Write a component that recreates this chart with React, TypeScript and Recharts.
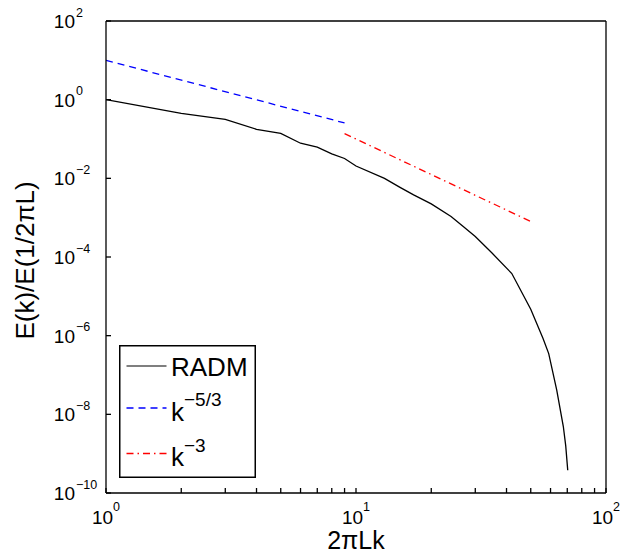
import { LineChart, Line, XAxis, YAxis, Legend } from "recharts";

// RADM spectrum
const radmK = [1, 2, 3, 4, 5, 6, 7, 8, 9, 10, 13, 15, 17, 20, 24, 27, 30, 35, 42, 50, 56, 59, 63.5, 67.5, 69, 70.3];
const radmE = [
  1, 0.45, 0.316, 0.176, 0.139, 0.078, 0.062, 0.042, 0.032, 0.0206, 0.01, 0.0059, 0.0038, 0.00224, 0.00107,
  5.75e-4, 3.3e-4, 1.26e-4, 3.8e-5, 4.7e-6, 8.5e-7, 3.5e-7, 4.2e-8, 4.9e-9, 1.6e-9, 3.8e-10,
];

// reference slopes (end points only)
const k53K = [1, 9];
const k53E = [10, 0.256];
const k3K = [9, 50];
const k3E = [0.137, 0.0008];

const xTicks = [1, 2, 3, 4, 5, 6, 7, 8, 9, 10, 20, 30, 40, 50, 60, 70, 80, 90, 100];
const yTicks = [1e-10, 1e-8, 1e-6, 1e-4, 1e-2, 1, 100];

const zip = (ks: number[], es: number[]) => ks.map((k, i) => ({ k, e: es[i] }));
const radm = zip(radmK, radmE);
const k53 = zip(k53K, k53E);
const k3 = zip(k3K, k3E);

const FONT = "'Liberation Sans', Arial, Helvetica, sans-serif";

const expOf = (v: number) => Math.round(Math.log10(v));
const fmtExp = (n: number) => (n < 0 ? "\u2212" + Math.abs(n) : String(n));

const XTick = (props: any) => {
  const { x, y, payload } = props;
  const v = payload.value;
  const n = Math.log10(v);
  if (Math.abs(n - Math.round(n)) > 1e-6) return null;
  return (
    <text x={x} y={y} textAnchor="middle" fontFamily={FONT} fontSize={19} fill="#000">
      <tspan>10</tspan>
      <tspan dy={-13} fontSize={12.5}>{fmtExp(expOf(v))}</tspan>
    </text>
  );
};

const YTick = (props: any) => {
  const { x, y, payload } = props;
  const sup = fmtExp(expOf(payload.value));
  return (
    <g>
      <text x={x - 21} y={y + 7} textAnchor="end" fontFamily={FONT} fontSize={19} fill="#000">
        10
      </text>
      <text x={x - 20} y={y - 4.5} textAnchor="start" fontFamily={FONT} fontSize={12.5} fill="#000">
        {sup}
      </text>
    </g>
  );
};

const LegendBox = () => (
  <svg width={137} height={133} style={{ display: "block" }}>
    <rect x={0.75} y={0.75} width={135.5} height={131.5} fill="#fff" stroke="#000" strokeWidth={1.5} />
    <line x1={7.5} x2={47.5} y1={21} y2={21} stroke="#000" strokeWidth={1.2} />
    <line x1={7.5} x2={47.5} y1={63} y2={63} stroke="#0000ff" strokeWidth={1.3} strokeDasharray="7 5" />
    <line x1={7.5} x2={47.5} y1={108.5} y2={108.5} stroke="#ff0000" strokeWidth={1.3} strokeDasharray="7 4 1.5 4" />
    <text x={52} y={31} fontFamily={FONT} fontSize={26} fill="#000">RADM</text>
    <text x={52} y={76} fontFamily={FONT} fontSize={26} fill="#000">
      <tspan>k</tspan>
      <tspan dy={-15} fontSize={19}>{"\u22125/3"}</tspan>
    </text>
    <text x={52} y={121} fontFamily={FONT} fontSize={26} fill="#000">
      <tspan>k</tspan>
      <tspan dy={-14} fontSize={19}>{"\u22123"}</tspan>
    </text>
  </svg>
);

function App() {
  return (
    <div style={{ position: "absolute", left: 0, top: 0, background: "#fff" }}>
      <LineChart width={622} height={554} margin={{ top: 0, right: 0, bottom: 0, left: 0 }}>
        <XAxis
          xAxisId="bottom"
          dataKey="k"
          type="number"
          scale="log"
          domain={[1, 100]}
          ticks={xTicks}
          allowDataOverflow
          height={61}
          tickSize={-5}
          tickMargin={35.5}
          tick={<XTick />}
          interval={0}
          stroke="#000"
          strokeWidth={1.3}
          label={{
            content: () => (
              <text x={356} y={549} textAnchor="middle" fontFamily={FONT} fontSize={25} fill="#000">
                2πLk
              </text>
            ),
          }}
        />
        <XAxis
          xAxisId="top"
          orientation="top"
          type="number"
          scale="log"
          domain={[1, 100]}
          ticks={xTicks}
          allowDataOverflow
          height={21}
          tickSize={-5}
          tick={false}
          interval={0}
          stroke="#000"
          strokeWidth={1.3}
        />
        <YAxis
          yAxisId="left"
          type="number"
          scale="log"
          domain={[1e-10, 100]}
          ticks={yTicks}
          allowDataOverflow
          width={106}
          tickSize={-5}
          tickMargin={15}
          tick={<YTick />}
          interval={0}
          stroke="#000"
          strokeWidth={1.3}
          label={{
            content: () => (
              <text
                transform="translate(34,260.5) rotate(-90)"
                textAnchor="middle"
                fontFamily={FONT}
                fontSize={26}
                fill="#000"
              >
                E(k)/E(1/2πL)
              </text>
            ),
          }}
        />
        <YAxis
          yAxisId="right"
          orientation="right"
          type="number"
          scale="log"
          domain={[1e-10, 100]}
          ticks={yTicks}
          allowDataOverflow
          width={16}
          tickSize={-5}
          tick={false}
          interval={0}
          stroke="#000"
          strokeWidth={1.3}
        />
        <Line
          xAxisId="bottom"
          yAxisId="left"
          data={radm}
          dataKey="e"
          type="linear"
          stroke="#000"
          strokeWidth={1.3}
          dot={false}
          activeDot={false}
          isAnimationActive={false}
        />
        <Line
          xAxisId="bottom"
          yAxisId="left"
          data={k53}
          dataKey="e"
          type="linear"
          stroke="#0000ff"
          strokeWidth={1.3}
          strokeDasharray="7 5"
          dot={false}
          activeDot={false}
          isAnimationActive={false}
        />
        <Line
          xAxisId="bottom"
          yAxisId="left"
          data={k3}
          dataKey="e"
          type="linear"
          stroke="#ff0000"
          strokeWidth={1.3}
          strokeDasharray="7 4 1.5 4"
          dot={false}
          activeDot={false}
          isAnimationActive={false}
        />
        <Legend
          layout="vertical"
          align="center"
          verticalAlign="middle"
          content={() => <LegendBox />}
          wrapperStyle={{ left: 119, top: 345, width: 137, height: 133, bottom: "auto", right: "auto" }}
        />
      </LineChart>
    </div>
  );
}

export default App;
